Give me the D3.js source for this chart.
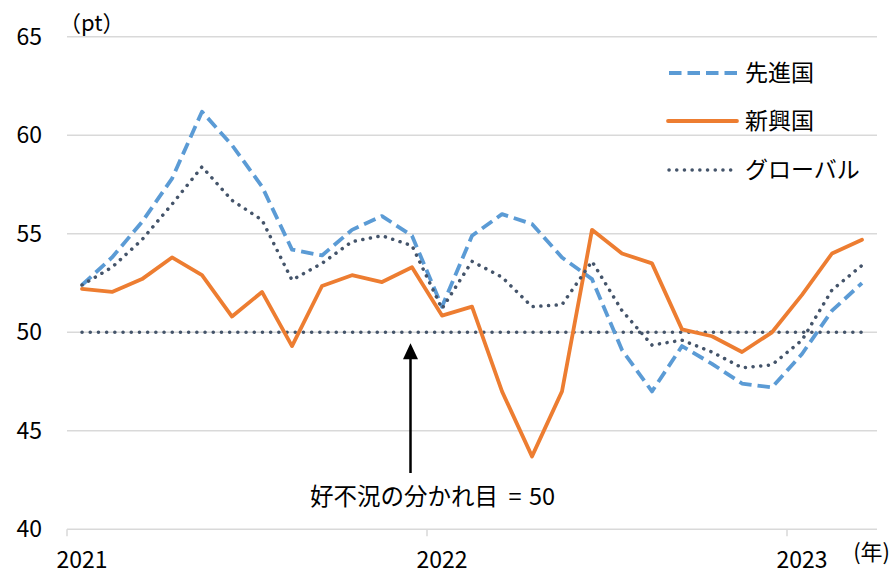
<!DOCTYPE html>
<html>
<head>
<meta charset="utf-8">
<script src="https://cdn.jsdelivr.net/npm/d3@7"></script>
<style>
  body { margin: 0; background: #fff; }
  text { font-family: "Noto Sans CJK JP", "Noto Sans", sans-serif; fill: #000; }
</style>
</head>
<body>
<svg id="chart" width="891" height="575"></svg>
<script>
// monthly, Jan 2021 .. Mar 2023
const months = d3.range(27);
const yearLabels = ["2021", "2022", "2023"];
const yTicks = [40, 45, 50, 55, 60, 65];

const developed = [52.4, 53.8, 55.6, 57.8, 61.2, 59.5, 57.4, 54.2, 53.9, 55.2, 55.9, 54.9, 51.3,
  54.9, 56.0, 55.5, 53.8, 52.7, 49.1, 47.0, 49.3, 48.4, 47.4, 47.2, 48.9, 51.1, 52.5];
const emerging = [52.2, 52.05, 52.7, 53.8, 52.9, 50.8, 52.05, 49.3, 52.35, 52.9, 52.55, 53.3, 50.85,
  51.3, 47.0, 43.7, 47.0, 55.2, 54.0, 53.5, 50.15, 49.8, 49.0, 50.0, 51.9, 54.0, 54.7];
const globalPmi = [52.4, 53.3, 54.7, 56.5, 58.4, 56.7, 55.7, 52.65, 53.5, 54.6, 54.9, 54.4, 51.2,
  53.6, 52.8, 51.3, 51.4, 53.6, 51.1, 49.35, 49.6, 49.0, 48.2, 48.35, 49.6, 52.15, 53.4];
const threshold = months.map(() => 50);

const seriesNames = ["先進国", "新興国", "グローバル"];

const svg = d3.select("#chart");

const x = d3.scaleBand().domain(months).range([67, 877]);
const y = d3.scaleLinear().domain([40, 65]).range([529.3, 36.8]);
const cx = i => x(i) + x.bandwidth() / 2;

// gridlines
svg.append("g").selectAll("line")
  .data(yTicks)
  .enter().append("line")
  .attr("x1", 67).attr("x2", 877)
  .attr("y1", d => y(d)).attr("y2", d => y(d))
  .attr("stroke", "#d9d9d9").attr("stroke-width", 1.5);

svg.append("g").selectAll("text")
  .data(yTicks)
  .enter().append("text")
  .attr("x", 42).attr("y", d => y(d))
  .attr("dy", "0.35em")
  .attr("text-anchor", "end")
  .style("font-size", "23px")
  .text(d => d);

// year ticks on x axis
const yearStarts = [0, 12, 24];
svg.append("g").selectAll("line")
  .data(yearStarts)
  .enter().append("line")
  .attr("x1", d => x(d)).attr("x2", d => x(d))
  .attr("y1", y(40)).attr("y2", y(40) + 7)
  .attr("stroke", "#d9d9d9").attr("stroke-width", 1.5);

svg.append("g").selectAll("text")
  .data(yearStarts)
  .enter().append("text")
  .attr("x", d => cx(d)).attr("y", 568)
  .attr("text-anchor", "middle")
  .style("font-size", "23px")
  .text((d, i) => yearLabels[i]);

svg.append("text").attr("x", 59).attr("y", 31).style("font-size", "22px").text("（pt）");
svg.append("text").attr("x", 890).attr("y", 560)
  .attr("text-anchor", "end").style("font-size", "22px").text("(年)");

const line = d3.line().x((d, i) => cx(i)).y(d => y(d));

// 50 line
svg.append("path")
  .attr("d", line(threshold))
  .attr("fill", "none").attr("stroke", "#44546a")
  .attr("stroke-width", 3.5).attr("stroke-linecap", "round")
  .attr("stroke-dasharray", "0.1 8.1");

const styles = [
  { data: developed, color: "#5b9bd5", dash: "12.5 6", cap: "butt", w: 3.8 },
  { data: emerging, color: "#ed7d31", dash: null, cap: "round", w: 3.8 },
  { data: globalPmi, color: "#44546a", dash: "0.1 7.6", cap: "round", w: 3.5 }
];

styles.forEach(s => {
  svg.append("path")
    .attr("d", line(s.data))
    .attr("fill", "none")
    .attr("stroke", s.color)
    .attr("stroke-width", s.w)
    .attr("stroke-linejoin", "round")
    .attr("stroke-linecap", s.cap)
    .attr("stroke-dasharray", s.dash);
});

// legend
const legendY = [73, 121, 170];
const legend = svg.append("g").selectAll("g")
  .data(styles)
  .enter().append("g")
  .attr("transform", (d, i) => `translate(0, ${legendY[i]})`);

legend.append("line")
  .attr("x1", (d, i) => i == 1 ? 668 : 669).attr("x2", 737)
  .attr("stroke", d => d.color)
  .attr("stroke-width", d => d.w)
  .attr("stroke-linecap", d => d.cap)
  .attr("stroke-dasharray", d => d.dash);

legend.append("text")
  .attr("x", 745).attr("dy", "0.35em")
  .style("font-size", "23px")
  .text((d, i) => seriesNames[i]);

// annotation arrow
const arrowX = cx(11) - 1.5;
svg.append("line")
  .attr("x1", arrowX).attr("x2", arrowX)
  .attr("y1", 473).attr("y2", 355)
  .attr("stroke", "#000").attr("stroke-width", 2.5);
svg.append("path")
  .attr("d", `M${arrowX},${y(50) + 11} l-7.5,16 l15,0 z`)
  .attr("fill", "#000");

const note = svg.append("text")
  .attr("x", 310).attr("y", 505)
  .style("font-size", "23.5px");
note.append("tspan").text("好不況の分かれ目");
note.append("tspan").attr("x", 515).attr("text-anchor", "middle").text("=");
note.append("tspan").attr("x", 529).text("50");
</script>
</body>
</html>
